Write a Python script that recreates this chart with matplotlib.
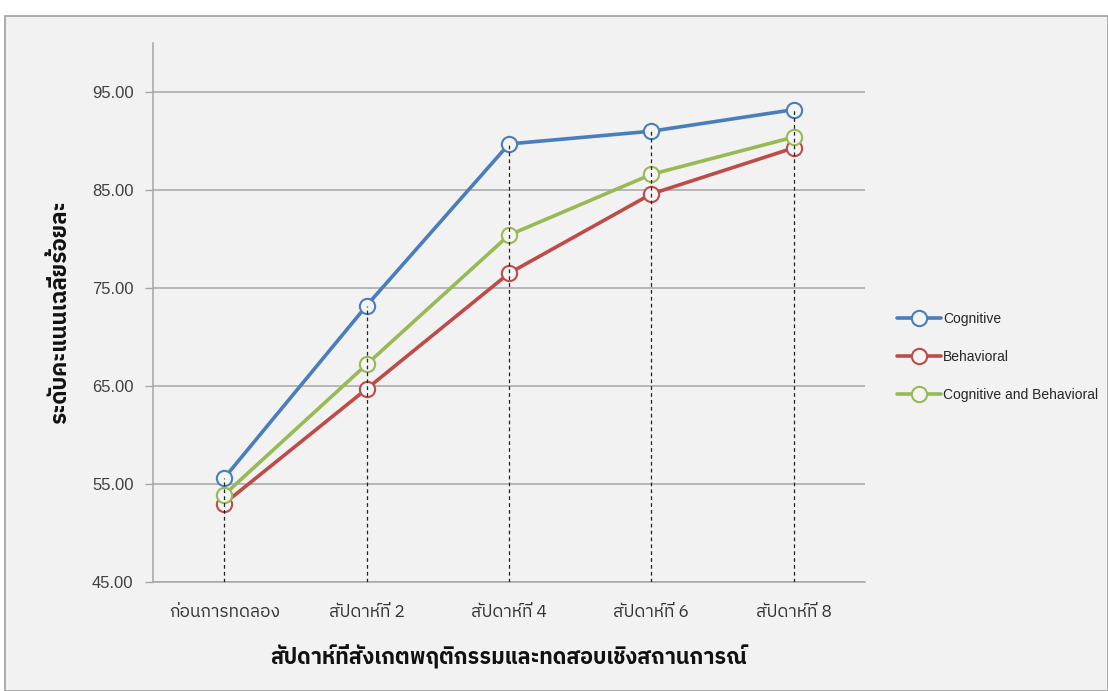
import matplotlib
matplotlib.use("Agg")
import matplotlib.pyplot as plt
from matplotlib.patches import Rectangle
import numpy as np

# Data
categories = ["ก่อนการทดลอง", "สัปดาห์ที่ 2", "สัปดาห์ที่ 4", "สัปดาห์ที่ 6", "สัปดาห์ที่ 8"]
cognitive = [55.6, 73.2, 89.7, 91.0, 93.2]
behavioral = [53.0, 64.7, 76.5, 84.6, 89.3]
cog_and_beh = [53.9, 67.2, 80.4, 86.6, 90.4]
series_names = ["Cognitive", "Behavioral", "Cognitive and Behavioral"]
y_ticks = [45, 55, 65, 75, 85, 95]

x_title = "สัปดาห์ที่สังเกตพฤติกรรมและทดสอบเชิงสถานการณ์"
y_title = "ระดับคะแนนเฉลี่ยร้อยละ"

THAI = ["IBM Plex Sans Thai", "Noto Sans Thai", "DejaVu Sans"]
LATIN = ["Liberation Sans", "DejaVu Sans"]

W, H = 1108, 691
fig = plt.figure(figsize=(W / 100, H / 100), dpi=100, facecolor="white")

# chart panel
fig.patches.append(Rectangle((5 / W, 0), 1 - 5 / W, (H - 16) / H, transform=fig.transFigure,
                             facecolor="#f2f2f2", edgecolor="#a0a0a0", linewidth=1.2, zorder=-10))

ax = fig.add_axes([153 / W, (H - 582) / H, (865 - 153) / W, (582 - 43) / H])
ax.set_facecolor("none")

x = np.arange(len(categories))
colors = ["#4a7ebb", "#be4b48", "#98b954"]
series = [cognitive, behavioral, cog_and_beh]

for vals, c, name in zip(series, colors, series_names):
    ax.plot(x, vals, color=c, linewidth=2.6, marker="o", markersize=11,
            markerfacecolor="#f4f4f4", markeredgecolor=c, markeredgewidth=1.5,
            label=name, zorder=3, solid_capstyle="round")

# drop lines from the highest point down to the axis
tops = np.max(np.array(series), axis=0)
ax.vlines(x, 45, tops, colors="#222222", linestyles=(0, (3, 2.5)), linewidth=0.9, zorder=4)

ax.set_xlim(-0.5, len(categories) - 0.5)
ax.set_ylim(45, 100)
ax.set_yticks(y_ticks)
ax.set_yticklabels([f"{v:.2f}" for v in y_ticks], family=LATIN, fontsize=12, color="#404040")
ax.set_xticks(x)
ax.set_xticklabels(categories, family=THAI, fontsize=12.5, color="#333333")
ax.tick_params(axis="y", length=6, width=1, color="#a6a6a6", pad=8)
ax.tick_params(axis="x", length=0, pad=16)
ax.grid(axis="y", color="#a6a6a6", linewidth=1.1)
ax.set_axisbelow(True)
for s in ["top", "right"]:
    ax.spines[s].set_visible(False)
ax.spines["left"].set_color("#a6a6a6")
ax.spines["bottom"].set_color("#a6a6a6")
ax.spines["left"].set_linewidth(1.1)
ax.spines["bottom"].set_linewidth(1.1)

ax.set_xlabel(x_title, family=THAI, fontsize=15.5, fontweight="bold", color="#111111", labelpad=17)
ax.set_ylabel(y_title, family=THAI, fontsize=16, fontweight="bold", color="#111111", labelpad=16)

leg = ax.legend(loc="center left", bbox_to_anchor=(897 / W, (H - 357) / H),
                bbox_transform=fig.transFigure, frameon=False,
                prop={"family": LATIN, "size": 10}, handlelength=3.2, handletextpad=0.1,
                labelspacing=1.72, borderaxespad=0, borderpad=0)
for t in leg.get_texts():
    t.set_color("#262626")

fig.savefig("out.png", dpi=100, facecolor="white")
